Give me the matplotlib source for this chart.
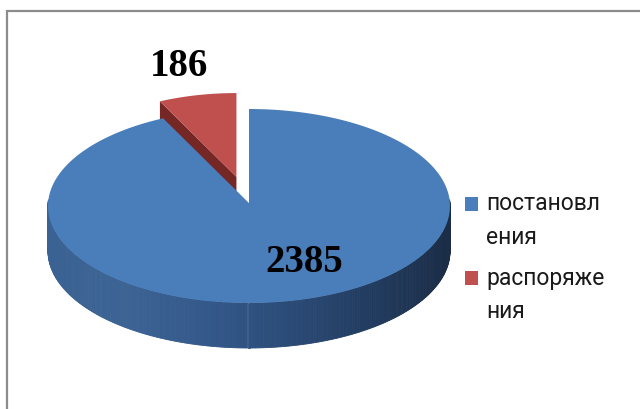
import textwrap
import numpy as np
import matplotlib
matplotlib.use("Agg")
import matplotlib.pyplot as plt
from matplotlib.patches import Polygon, Rectangle
from matplotlib.colors import LinearSegmentedColormap

# ---- data ----
categories = ["постановления", "распоряжения"]
values = [2385, 186]
value_labels = ["2385", "186"]
top_colors = ["#4a7ebb", "#c0504d"]
wall_colors = ["#2c4b75", "#742725"]
explode = [0.0, 0.28]

# ---- geometry (pixel space) ----
W, H = 640, 409
K = 0.03                       # mild perspective
cx = 249.0
Y0 = 109 + 97 * (1 - K)
B = 97 * (1 - K ** 2)
A = 201 * np.sqrt(1 - K ** 2)
DEPTH = 45.0
SHRINK = 0.45                  # exploded slices look smaller (further back)

fig = plt.figure(figsize=(W / 100, H / 100), dpi=100)
ax = fig.add_axes([0, 0, 1, 1])
ax.set_xlim(0, W)
ax.set_ylim(H, 0)
ax.axis("off")


def proj(u, v, z=0.0):
    u = np.asarray(u, float)
    v = np.asarray(v, float)
    s = 1.0 + K * v
    return cx + A * u / s, Y0 - B * v / s + z


def sproj(u, v, z, ou, ov, sc):
    bx, by = proj(ou, ov)
    x0, y0 = proj(0.0, 0.0)
    lx, ly = proj(u, v, z)
    return bx + sc * (lx - x0), by + sc * (ly - y0)


# slice angles: start at 12 o'clock going clockwise (Excel style)
total = float(sum(values))
slices = []
ang = 90.0
for i, val in enumerate(values):
    sweep = 360.0 * val / total
    a0, a1 = ang - sweep, ang
    ang -= sweep
    mid = np.deg2rad((a0 + a1) / 2)
    ou, ov = explode[i] * np.cos(mid), explode[i] * np.sin(mid)
    sc = 1.0 / (1.0 + SHRINK * ov)
    th = np.deg2rad(np.linspace(a0, a1, 200))
    slices.append(dict(ou=ou, ov=ov, sc=sc, th=th))

# ---- red slice (behind): wall on its counter-clockwise edge + top ----
s = slices[1]
e1 = s["th"][-1]
eu, ev = np.cos(e1), np.sin(e1)
pts = [sproj(0, 0, 0, s["ou"], s["ov"], s["sc"]),
       sproj(eu, ev, 0, s["ou"], s["ov"], s["sc"]),
       sproj(eu, ev, DEPTH, s["ou"], s["ov"], s["sc"]),
       sproj(0, 0, DEPTH, s["ou"], s["ov"], s["sc"])]
ax.add_patch(Polygon(pts, closed=True, fc=wall_colors[1], ec="none"))
xs, ys = sproj(np.r_[0, np.cos(s["th"])], np.r_[0, np.sin(s["th"])], 0,
               s["ou"], s["ov"], s["sc"])
ax.add_patch(Polygon(np.c_[xs, ys], closed=True, fc=top_colors[1], ec="none"))

# ---- blue slice: outer side with gradient, then top ----
s = slices[0]
cmap = LinearSegmentedColormap.from_list(
    "side", ["#3a6292", "#3b6393", "#33588a", "#2b4b77", "#223c60", "#1b2d47"])
th = np.deg2rad(np.linspace(178, 362, 260))
xt, yt = proj(np.cos(th), np.sin(th))
xb, yb = proj(np.cos(th), np.sin(th), DEPTH)
for j in range(len(th) - 1):
    frac = ((xt[j] + xt[j + 1]) / 2 - (cx - A)) / (2 * A)
    c = cmap(np.clip(frac, 0, 1))
    ax.add_patch(Polygon([(xt[j], yt[j]), (xt[j + 1], yt[j + 1]),
                          (xb[j + 1], yb[j + 1]), (xb[j], yb[j])],
                         closed=True, fc=c, ec=c, lw=0.6))
xs, ys = sproj(np.r_[0, np.cos(s["th"])], np.r_[0, np.sin(s["th"])], 0,
               s["ou"], s["ov"], s["sc"])
ax.add_patch(Polygon(np.c_[xs, ys], closed=True, fc=top_colors[0], ec="none"))

# ---- value labels ----
label_font = dict(family="Liberation Serif", fontweight="bold", fontsize=28,
                  color="black", ha="center", va="center")
ax.text(304, 262, value_labels[0], **label_font)
ax.text(179, 66, value_labels[1], **label_font)

# ---- legend (manual, wrapped like Excel) ----
leg_font = dict(family="Roboto", fontsize=16.5, color="#1a1a1a",
                ha="left", va="center")
legend_y = [204, 278]
for i, name in enumerate(categories):
    lines = textwrap.wrap(name, 9, break_long_words=True)
    y0 = legend_y[i]
    ax.add_patch(Rectangle((465, y0 - 7), 13, 14, fc=top_colors[i], ec="none"))
    for k, ln in enumerate(lines):
        ax.text(486, y0 + k * 33, ln, **leg_font)

# ---- chart border ----
ax.plot([7, 7, W + 5], [H + 5, 11, 11], color="#8c8c8c", lw=1.6,
        solid_joinstyle="miter", clip_on=False)

fig.savefig("out.png", dpi=100)
